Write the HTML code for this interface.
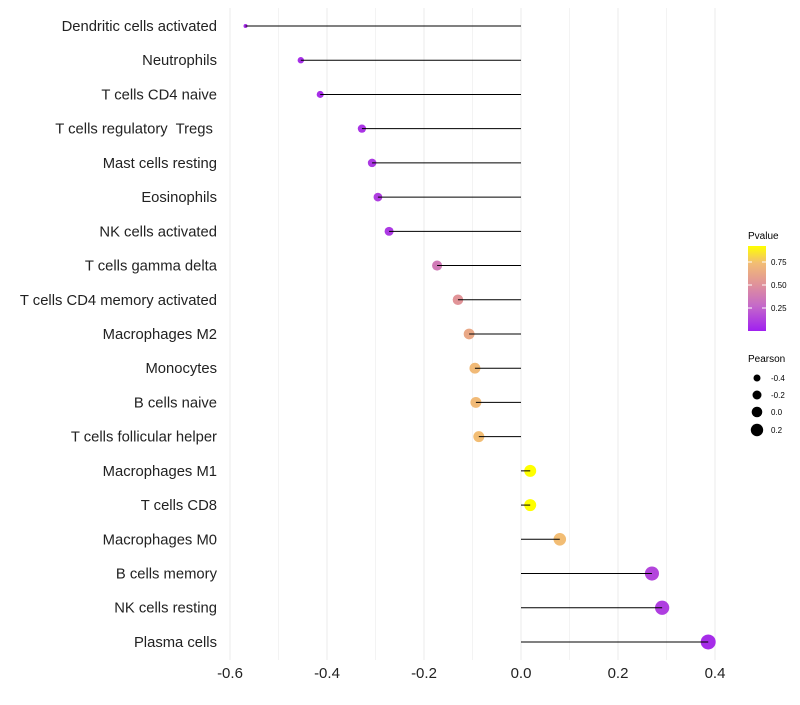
<!DOCTYPE html>
<html><head><meta charset="utf-8"><style>
body{margin:0;background:#fff;font-family:"Liberation Sans",sans-serif}
text{white-space:pre}
</style></head><body>
<svg id="chart" width="800" height="700" xmlns="http://www.w3.org/2000/svg">
<defs><linearGradient id="pg" x1="0" y1="1" x2="0" y2="0">
<stop offset="0" stop-color="#a020f0"/><stop offset="0.3" stop-color="#c56ac8"/><stop offset="0.55" stop-color="#e0929a"/><stop offset="0.8" stop-color="#f2bd74"/><stop offset="1" stop-color="#ffff00"/>
</linearGradient></defs>
<g id="grid"></g><g id="marks"></g><g id="labels"></g>
<g font-size="10" fill="#000">
<text x="748" y="239">Pvalue</text>
<rect x="748" y="246" width="18" height="85" fill="url(#pg)"/>
<line x1="748" y1="262" x2="752" y2="262" stroke="#fff"/><line x1="762" y1="262" x2="766" y2="262" stroke="#fff"/>
<line x1="748" y1="285" x2="752" y2="285" stroke="#fff"/><line x1="762" y1="285" x2="766" y2="285" stroke="#fff"/>
<line x1="748" y1="308" x2="752" y2="308" stroke="#fff"/><line x1="762" y1="308" x2="766" y2="308" stroke="#fff"/>
<text x="771" y="265" font-size="8">0.75</text><text x="771" y="288" font-size="8">0.50</text><text x="771" y="311" font-size="8">0.25</text>
</g>
<g font-size="10">
<text x="748" y="362">Pearson</text>
<circle cx="757" cy="378" r="3.5"/><text x="771" y="381" font-size="8">-0.4</text>
<circle cx="757" cy="395" r="4.5"/><text x="771" y="398" font-size="8">-0.2</text>
<circle cx="757" cy="412" r="5.3"/><text x="771" y="415" font-size="8">0.0</text>
<circle cx="757" cy="430" r="6.2"/><text x="771" y="433" font-size="8">0.2</text>
</g>
</svg>
<script>
const categories=["Dendritic cells activated","Neutrophils","T cells CD4 naive","T cells regulatory  Tregs ","Mast cells resting","Eosinophils","NK cells activated","T cells gamma delta","T cells CD4 memory activated","Macrophages M2","Monocytes","B cells naive","T cells follicular helper","Macrophages M1","T cells CD8","Macrophages M0","B cells memory","NK cells resting","Plasma cells"];
const pearson=[-0.568,-0.454,-0.414,-0.328,-0.307,-0.295,-0.272,-0.173,-0.130,-0.107,-0.095,-0.093,-0.087,0.019,0.019,0.080,0.270,0.291,0.386];
const pvalue=[0.05,0.06,0.06,0.08,0.1,0.12,0.1,0.4,0.56,0.68,0.78,0.78,0.8,0.92,0.92,0.8,0.15,0.12,0.05];
const ticks=[-0.6,-0.4,-0.2,0.0,0.2,0.4];
const NS="http://www.w3.org/2000/svg";
const x=v=>521+v*485;
const y=i=>26+i*34.22;
const rScale=v=>Math.sqrt(4+(v+0.568)/0.954*52);
const stops=[[0,[160,32,240]],[0.3,[197,106,200]],[0.55,[224,146,154]],[0.8,[242,189,116]],[0.92,[255,255,0]]];
function col(p){p=Math.max(0,Math.min(0.92,p));for(let k=1;k<stops.length;k++){if(p<=stops[k][0]){const a=stops[k-1],b=stops[k],t=(p-a[0])/(b[0]-a[0]);return "rgb("+a[1].map((c,j)=>Math.round(c+(b[1][j]-c)*t)).join(",")+")";}}return "rgb(255,255,0)";}
function mk(tag,at,parent){const e=document.createElementNS(NS,tag);for(const k in at)e.setAttribute(k,at[k]);document.getElementById(parent).appendChild(e);return e;}
for(let v=-0.6;v<=0.41;v+=0.1){const g=mk("line",{x1:x(v),x2:x(v),y1:8,y2:660,stroke:"#ebebeb","stroke-width":Math.abs(Math.round(v*10))%2===0?1:0.6},"grid");

}
ticks.forEach(t=>{const e=mk("text",{x:x(t),y:678,"text-anchor":"middle","font-size":15,fill:"#222"},"labels");e.textContent=t.toFixed(1);

});
categories.forEach((c,i)=>{const e=mk("text",{x:217,y:y(i)+5,"text-anchor":"end","font-size":14.8,fill:"#222"},"labels");e.textContent=c;


const p=mk("circle",{cx:x(pearson[i]),cy:y(i),r:rScale(pearson[i]),fill:col(pvalue[i])},"marks");


const l=mk("line",{x1:x(0),x2:x(pearson[i]),y1:y(i),y2:y(i),stroke:"#000","stroke-width":1},"marks");

});
</script>
</body></html>
